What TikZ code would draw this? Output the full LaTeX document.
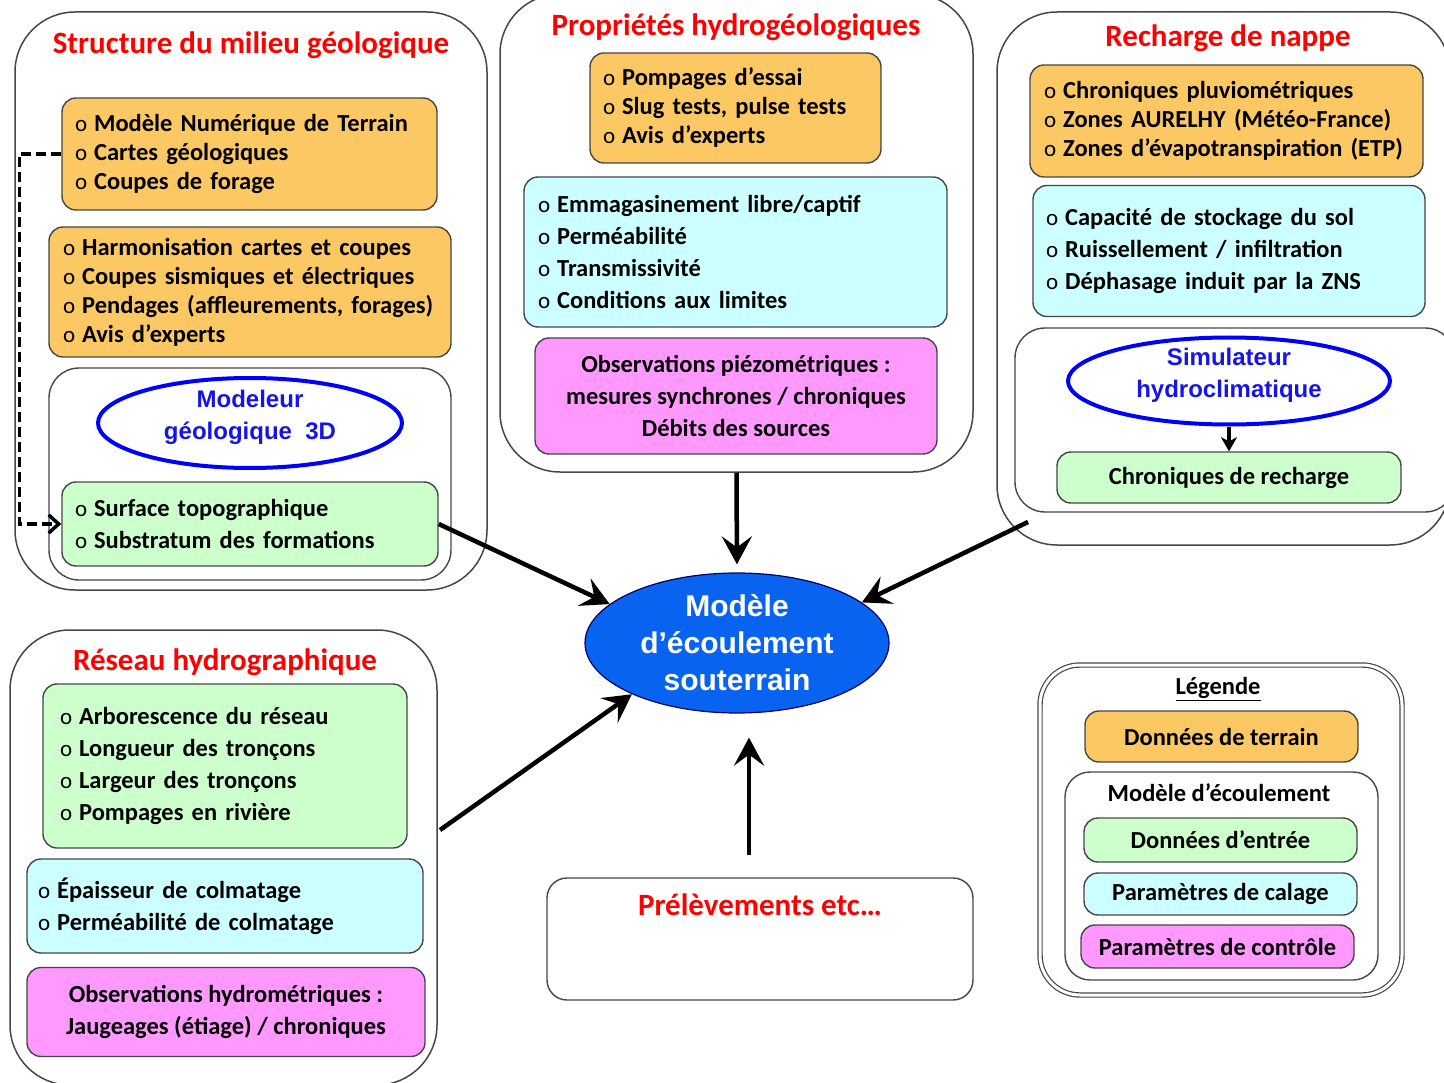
\documentclass[tikz,border=0pt]{standalone}
\usepackage{fontspec}
\setmainfont{Carlito}
\newfontfamily\arialfont{Liberation Sans}
\usetikzlibrary{shapes.geometric,arrows.meta,calc}
\definecolor{orf}{RGB}{252,200,100}
\definecolor{grf}{RGB}{204,255,204}
\definecolor{cyf}{RGB}{204,255,255}
\definecolor{mgf}{RGB}{255,153,255}
\definecolor{eblue}{RGB}{8,100,240}
\definecolor{tblue}{RGB}{20,20,235}
\definecolor{edge}{RGB}{70,70,70}
\newcommand\bul{{\mdseries\fontsize{23}{23}\selectfont o}\hspace{7pt}}
\newcommand\li[1]{\mbox{\bul #1}}
\begin{document}
\begin{tikzpicture}[x=1pt,y=-1pt,
  grp/.style={draw=edge, line width=1.5pt, rounded corners=60pt},
  wbx/.style={draw=edge, line width=1.4pt, rounded corners=30pt},
  cbox/.style={draw=edge, line width=1.4pt, rounded corners=14pt, inner ysep=0pt},
  obx/.style={cbox, fill=orf},
  gbx/.style={cbox, fill=grf},
  cbx/.style={cbox, fill=cyf},
  mbx/.style={cbox, fill=mgf},
  lst/.style={align=left, font=\bfseries\fontsize{24.5}{29}\selectfont},
  lst32/.style={align=left, font=\bfseries\fontsize{24.5}{32}\selectfont},
  ctr/.style={align=center, font=\bfseries\fontsize{24.5}{32}\selectfont},
  ttl/.style={text=red, font=\bfseries\fontsize{31}{36}\selectfont},
  bell/.style={ellipse, draw=blue, line width=4pt, fill=white, inner sep=0pt},
  belt/.style={text=tblue, align=center, font=\arialfont\bfseries\fontsize{24}{32}\selectfont},
  bigarrow/.style={line width=4.5pt, -{Stealth[length=28pt,width=30pt,inset=11pt]}}
]
\useasboundingbox (0,0) rectangle (1444,1083);

% ---------- Group 1 ----------
\node[grp, minimum width=472pt, minimum height=578pt] (g1) at (251,301) {};
\node[ttl] (g1t) at (251,45) {Structure du milieu géologique};
\node[obx, lst, minimum width=375pt, minimum height=112pt, text width=349pt, inner xsep=13pt] (g1o1) at (249.5,154)
  {\li{Modèle Numérique de Terrain}\\\li{Cartes géologiques}\\\li{Coupes de forage}};
\node[obx, lst, minimum width=402pt, minimum height=130pt, text width=374pt, inner xsep=14pt] (g1o2) at (250,292)
  {\li{Harmonisation cartes et coupes}\\\li{Coupes sismiques et électriques}\\\li{Pendages (affleurements, forages)}\\\li{Avis d’experts}};
\node[wbx, minimum width=402pt, minimum height=212pt] (g1w) at (250,474) {};
\node[bell, minimum width=304pt, minimum height=90pt] (g1e) at (250,423) {};
\node[belt] (g1et) at (250,417) {Modeleur\\géologique~~3D};
\node[gbx, lst32, minimum width=376pt, minimum height=84pt, text width=350pt, inner xsep=13pt] (g1g) at (250,524)
  {\li{Surface topographique}\\\li{Substratum des formations}};
\draw[line width=3.5pt, dash pattern=on 10pt off 5pt, -{Straight Barb[length=10pt,width=18pt]}]
  (g1o1.west) -- ++(-42,0) |- (g1g.west);

% ---------- Group 2 ----------
\node[grp, minimum width=473pt, minimum height=478pt] (g2) at (736.5,233) {};
\node[ttl] (g2t) at (736,27) {Propriétés hydrogéologiques};
\node[obx, lst, minimum width=291pt, minimum height=110pt, text width=265pt, inner xsep=13pt] (g2o) at (735.5,108)
  {\li{Pompages d’essai}\\\li{Slug tests, pulse tests}\\\li{Avis d’experts}};
\node[cbx, lst32, minimum width=423pt, minimum height=150pt, text width=395pt, inner xsep=14pt] (g2c) at (735.5,252)
  {\li{Emmagasinement libre/captif}\\\li{Perméabilité}\\\li{Transmissivité}\\\li{Conditions aux limites}};
\node[mbx, ctr, minimum width=402pt, minimum height=116pt] (g2m) at (736,396)
  {Observations piézométriques :\\mesures synchrones / chroniques\\Débits des sources};

% ---------- Group 3 ----------
\node[grp, minimum width=453pt, minimum height=533pt] (g3) at (1223.5,278.5) {};
\node[ttl] (g3t) at (1228,38) {Recharge de nappe};
\node[obx, lst, minimum width=393pt, minimum height=112pt, text width=365pt, inner xsep=14pt] (g3o) at (1226.5,121)
  {\li{Chroniques pluviométriques}\\\li{Zones AURELHY (Météo-France)}\\\li{Zones d’évapotranspiration (ETP)}};
\node[cbx, lst32, minimum width=392pt, minimum height=131pt, text width=366pt, inner xsep=13pt] (g3c) at (1229,251)
  {\li{Capacité de stockage du sol}\\\li{Ruissellement / infiltration}\\\li{Déphasage induit par la ZNS}};
\node[wbx, minimum width=440pt, minimum height=184pt] (g3w) at (1235,420) {};
\node[bell, minimum width=322pt, minimum height=87pt] (g3e) at (1229,381) {};
\node[belt] (g3et) at (1229,375) {Simulateur\\hydroclimatique};
\node[gbx, ctr, minimum width=344pt, minimum height=51pt] (g3g) at (1229,477.5) {Chroniques de recharge};
\draw[line width=3.5pt, -{Stealth[length=14pt,width=16pt,inset=4pt]}] (g3e.south) -- (g3g.north);

% ---------- Group 4 ----------
\node[grp, minimum width=427pt, minimum height=455pt] (g4) at (223.5,857.5) {};
\node[ttl] (g4t) at (225,662) {Réseau hydrographique};
\node[gbx, lst32, minimum width=364pt, minimum height=164pt, text width=330pt, inner xsep=17pt] (g4g) at (225,766)
  {\li{Arborescence du réseau}\\\li{Longueur des tronçons}\\\li{Largeur des tronçons}\\\li{Pompages en rivière}};
\node[cbx, lst32, minimum width=396pt, minimum height=94pt, text width=374pt, inner xsep=11pt] (g4c) at (225,906)
  {\li{Épaisseur de colmatage}\\\li{Perméabilité de colmatage}};
\node[mbx, ctr, minimum width=398pt, minimum height=89pt] (g4m) at (226,1012)
  {Observations hydrométriques :\\Jaugeages (étiage) / chroniques};

% ---------- Prélèvements ----------
\node[draw=edge, line width=1.4pt, rounded corners=20pt, minimum width=426pt, minimum height=122pt] (prel) at (760,939) {};
\node[ttl] (prelt) at (760,905) {Prélèvements etc…};

% ---------- Central model ----------
\node[ellipse, draw=black!60!blue, line width=1.2pt, fill=eblue, minimum width=304pt, minimum height=140pt, inner sep=0pt] (eco) at (737,643) {};
\node[text=white, align=center, font=\arialfont\bfseries\fontsize{30}{37}\selectfont] (ecot) at (737,643)
  {Modèle\\d’écoulement\\souterrain};

% ---------- Legend ----------
\node[draw=edge, line width=1.2pt, double=white, double distance=3pt, rounded corners=40pt, minimum width=362pt, minimum height=330pt] (leg) at (1221,830) {};
\node[font=\bfseries\fontsize{24.5}{29}\selectfont] (legt) at (1218,689) {\underline{Légende}};
\node[obx, ctr, minimum width=273pt, minimum height=51pt] (lo) at (1221.5,736.5) {Données de terrain};
\node[wbx, rounded corners=25pt, minimum width=313pt, minimum height=208pt] (lw) at (1221.5,876) {};
\node[font=\bfseries\fontsize{24.5}{29}\selectfont] (lwt) at (1219,793) {Modèle d’écoulement};
\node[gbx, ctr, minimum width=273pt, minimum height=44pt] (lg) at (1220.5,840) {Données d’entrée};
\node[cbx, ctr, minimum width=273pt, minimum height=42pt] (lc) at (1220.5,894) {Paramètres de calage};
\node[mbx, ctr, minimum width=273pt, minimum height=43pt] (lm) at (1217.5,946.5) {Paramètres de contrôle};

% ---------- Arrows ----------
\coordinate (g3a) at (1028,522);
\coordinate (g4a) at (440,830);
\coordinate (pst) at (749,855);
\draw[bigarrow] (g1g.east) -- (eco.163);
\draw[bigarrow, shorten >=8pt] (g2.south) -- (eco.north);
\draw[bigarrow] (g3a) -- (eco.18);
\draw[bigarrow] (g4a) -- (eco.206);
\draw[bigarrow, shorten >=24pt] (pst) -- (pst |- eco.south);
\end{tikzpicture}
\end{document}
